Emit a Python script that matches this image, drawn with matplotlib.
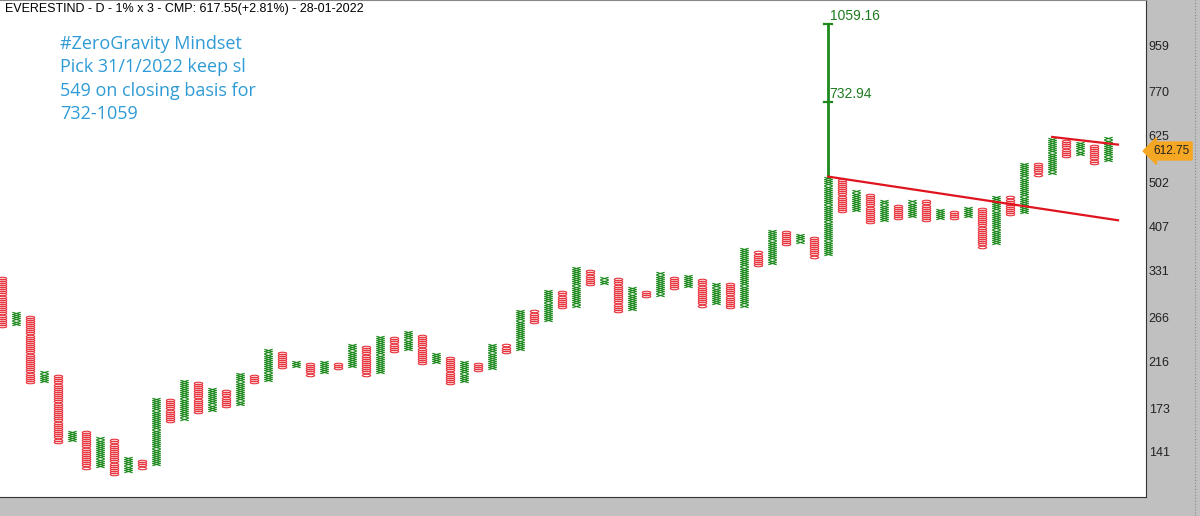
import numpy as np
import matplotlib
matplotlib.use('Agg')
import matplotlib.pyplot as plt
from matplotlib.path import Path
from matplotlib.ticker import FixedLocator, NullLocator

# column highs / lows (1% box, 3 box reversal); columns alternate O, X starting with O
highs = [322, 271, 267, 205, 202, 156, 155, 151, 149, 138,
         136, 182, 180, 199, 197, 191, 189, 205, 202, 229,
         226, 217, 215, 217, 215, 233, 231, 244, 243, 248,
         244, 224, 221, 217, 215, 235, 233, 275, 274, 302,
         299, 336, 333, 322, 319, 305, 302, 327, 322, 324,
         319, 313, 311, 368, 364, 402, 398, 395, 389, 516,
         511, 481, 476, 459, 454, 461, 459, 444, 440, 448,
         444, 472, 468, 551, 548, 617, 614, 608, 602, 617]
lows = [255, 258, 196, 197, 148, 149, 131, 132, 127, 129,
        131, 133, 163, 165, 170, 172, 175, 177, 196, 198,
        210, 211, 203, 205, 209, 211, 203, 205, 227, 229,
        214, 215, 195, 197, 207, 209, 226, 229, 260, 262,
        279, 281, 311, 313, 274, 276, 294, 296, 305, 308,
        281, 284, 279, 281, 340, 344, 375, 380, 354, 358,
        438, 440, 416, 420, 424, 428, 420, 424, 424, 428,
        371, 377, 432, 436, 521, 526, 569, 575, 551, 559]

yticks = [141, 173, 216, 266, 331, 407, 502, 625, 770, 959]
title = 'EVERESTIND - D - 1% x 3 - CMP: 617.55(+2.81%) - 28-01-2022'
note = '#ZeroGravity Mindset\nPick 31/1/2022 keep sl\n549 on closing basis for\n732-1059'
target_col = 59
targets = [516, 732.94, 1059.16]
trend1 = [(59, 516), (79.7, 420)]
trend2 = [(75, 622), (79.7, 600)]
cmp_price = 612.75

plt.rcParams['font.family'] = ['Liberation Sans', 'DejaVu Sans']
fig = plt.figure(figsize=(12, 5.16), dpi=100)
fig.patch.set_facecolor('#c0c0c0')
ax = fig.add_axes([0, 19 / 516, 1146 / 1200, 497 / 516])
ax.set_facecolor('white')

# flattened markers
ell = Path.unit_circle()
ell = Path(ell.vertices * [1, 0.3], ell.codes)
xm = Path([(-1, -0.3), (1, 0.3), (-1, 0.3), (1, -0.3)],
          [Path.MOVETO, Path.LINETO, Path.MOVETO, Path.LINETO])

for i, (h, l) in enumerate(zip(highs, lows)):
    boxes = []
    p = l
    while p <= h * 1.001:
        boxes.append(p)
        p *= 1.01
    if i % 2 == 0:
        ax.plot([i] * len(boxes), boxes, ls='none', marker=ell, ms=6,
                mfc='none', mec='#e8323c', mew=0.8)
    else:
        ax.plot([i] * len(boxes), boxes, ls='none', marker=xm, ms=6,
                mec='#1e8a1e', mew=0.8)

# target projection
ax.plot([target_col, target_col], [targets[0], targets[2]], color='#1e8a1e', lw=2)
for t in targets[1:]:
    ax.plot([target_col - 0.3, target_col + 0.3], [t, t], color='#1e8a1e', lw=1.6)
    ax.text(target_col + 0.1, t * 1.003, '%.2f' % t, color='#1e7a1e', fontsize=10,
            va='bottom', ha='left')

for tl in (trend1, trend2):
    ax.plot([tl[0][0], tl[1][0]], [tl[0][1], tl[1][1]], color='#e0141e', lw=1.6)

ax.set_yscale('log')
ax.set_xlim(-0.14, 81.7)
ax.set_ylim(114, 1186)
ax.yaxis.tick_right()
ax.yaxis.set_major_locator(FixedLocator(yticks))
ax.yaxis.set_minor_locator(NullLocator())
ax.set_yticklabels([str(t) for t in yticks])
ax.tick_params(axis='y', length=0, pad=2, labelsize=9, colors='#222222')
ax.set_xticks([])
for s in ax.spines.values():
    s.set_color('#333333')
ax.spines['left'].set_visible(False)
ax.spines['top'].set_color('#888888')

ax.text(0.004, 0.993, title, transform=ax.transAxes, fontsize=9, va='top', ha='left')
ax.text(60 / 1146, 462 / 497, note, transform=ax.transAxes, fontsize=13,
        va='top', ha='left', color='#2e9bd6', linespacing=1.38,
        family=['Open Sans', 'DejaVu Sans'])

# callout set a little below the price so it clears the 625 tick label
ax.text(1.006, cmp_price * 0.95, '%.2f' % cmp_price, transform=ax.get_yaxis_transform(),
        fontsize=8.5, va='center', ha='left', color='#222222', clip_on=False, zorder=5,
        bbox=dict(boxstyle='larrow,pad=0.25', fc='#f5a623', ec='#f5a623'))
fig.add_artist(plt.Line2D([1195 / 1200] * 2, [0, 1], color='#888888', lw=0.8, ls=':'))

fig.savefig('out.png', dpi=100, facecolor=fig.get_facecolor())
